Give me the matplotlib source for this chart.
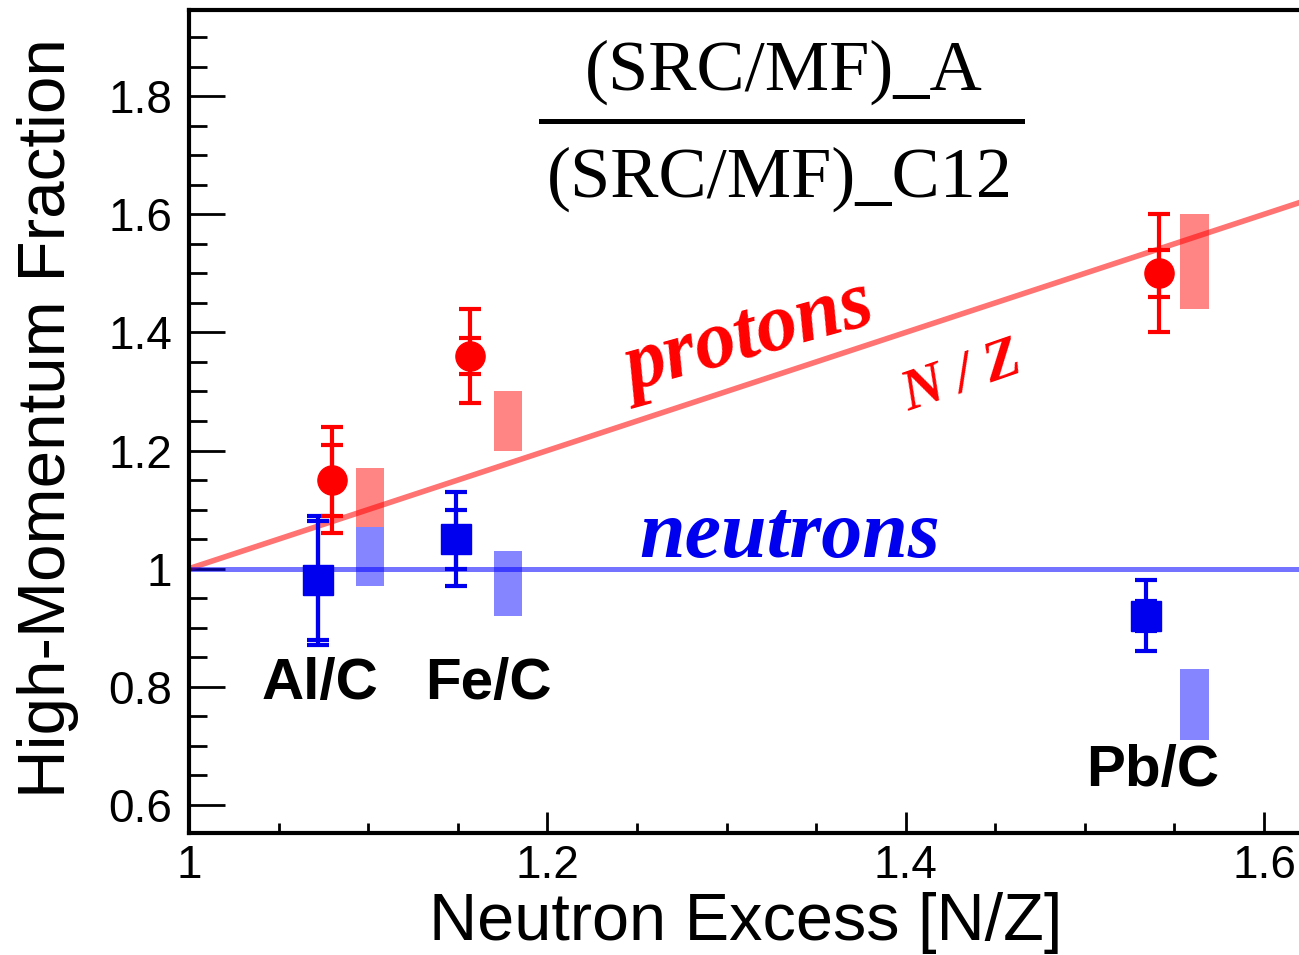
import matplotlib
matplotlib.use('Agg')
import matplotlib.pyplot as plt
from matplotlib.lines import Line2D
from matplotlib.ticker import MultipleLocator, FixedLocator

# ---------------- data ----------------
ratios = ['Al/C', 'Fe/C', 'Pb/C']

proton_x = [1.080, 1.157, 1.5415]
proton_y = [1.15, 1.36, 1.50]
proton_stat = [0.06, 0.03, 0.04]
proton_tot = [0.09, 0.08, 0.10]

neutron_x = [1.072, 1.149, 1.534]
neutron_y = [0.98, 1.05, 0.92]
neutron_stat = [0.10, 0.05, 0.025]
neutron_tot = [0.11, 0.08, 0.06]

sys_x = [1.101, 1.178, 1.561]
proton_sys_lo = [1.07, 1.20, 1.44]
proton_sys_hi = [1.17, 1.30, 1.60]
neutron_sys_lo = [0.97, 0.92, 0.71]
neutron_sys_hi = [1.07, 1.03, 0.83]

nz_line_x = [1.0, 1.65]
nz_line_y = [1.0, 1.65]
neutron_line_y = [1.0, 1.0]

x_ticks = [1.0, 1.2, 1.4, 1.6]
x_ticklabels = ['1', '1.2', '1.4', '1.6']
y_ticks = [0.6, 0.8, 1.0, 1.2, 1.4, 1.6, 1.8]
y_ticklabels = ['0.6', '0.8', '1', '1.2', '1.4', '1.6', '1.8']

label_x = [1.073, 1.167, 1.538]
label_y = [0.78, 0.78, 0.632]

# ---------------- figure ----------------
plt.rcParams['font.family'] = ['Liberation Sans', 'DejaVu Sans']
W, H = 1299, 955
fig = plt.figure(figsize=(W / 100, H / 100), dpi=100)
ax_left, ax_bottom, ax_top = 189 / W, (H - 833) / H, (H - 10) / H
ax = fig.add_axes([ax_left, ax_bottom, 1.0 - ax_left, ax_top - ax_bottom])
ax.set_xlim(1.0, 1.6195)
ax.set_ylim(0.5525, 1.9458)

RED = '#ff0000'
BLUE = '#0000ee'

# reference lines
ax.plot(nz_line_x, nz_line_y, color=RED, alpha=0.55, lw=4.0, zorder=2, solid_capstyle='butt')
ax.plot(nz_line_x, neutron_line_y, color='#0000ff', alpha=0.55, lw=3.6, zorder=2, solid_capstyle='butt')

# systematic boxes
ax.bar(sys_x, [h - l for h, l in zip(proton_sys_hi, proton_sys_lo)], bottom=proton_sys_lo,
       width=0.016, color=RED, alpha=0.48, linewidth=0, zorder=3)
ax.bar(sys_x, [h - l for h, l in zip(neutron_sys_hi, neutron_sys_lo)], bottom=neutron_sys_lo,
       width=0.016, color='#0000ff', alpha=0.48, linewidth=0, zorder=3)

# error bars (total with caps, stat with caps)
EW = 3.0
ax.errorbar(proton_x, proton_y, yerr=proton_tot, fmt='none', ecolor=RED, elinewidth=EW,
            capsize=8.2, capthick=EW, zorder=4)
ax.errorbar(proton_x, proton_y, yerr=proton_stat, fmt='o', color=RED, ms=21, mec=RED,
            ecolor=RED, elinewidth=EW, capsize=8.2, capthick=EW, zorder=5)
ax.errorbar(neutron_x, neutron_y, yerr=neutron_tot, fmt='none', ecolor=BLUE, elinewidth=EW,
            capsize=8.2, capthick=EW, zorder=4)
ax.errorbar(neutron_x, neutron_y, yerr=neutron_stat, fmt='s', color=BLUE, ms=21.5, mec=BLUE,
            ecolor=BLUE, elinewidth=EW, capsize=8.2, capthick=EW, zorder=5)

# nucleus labels
for name, lx, ly in zip(ratios, label_x, label_y):
    ax.text(lx, ly, name, ha='center', va='baseline', fontsize=42, fontweight='bold',
            color='black', zorder=6)

# curve labels
serif = ['Liberation Serif', 'DejaVu Serif']
ax.text(1.3157, 1.3576, 'protons', family=serif, style='italic', fontweight='bold',
        fontsize=59, color=RED, rotation=15.5, rotation_mode='anchor',
        ha='center', va='baseline', zorder=6)
ax.text(1.434, 1.301, 'N / Z', family=serif, style='italic', fontweight='bold',
        fontsize=42, color=RED, rotation=19, rotation_mode='anchor',
        ha='center', va='baseline', zorder=6)
ax.text(1.335, 1.019, 'neutrons', family=serif, style='italic', fontweight='bold',
        fontsize=59, color=BLUE, ha='center', va='baseline', zorder=6)

# axes styling
for s in ['left', 'bottom', 'top']:
    ax.spines[s].set_linewidth(3.0)
ax.spines['right'].set_visible(False)

ax.xaxis.set_major_locator(FixedLocator(x_ticks))
ax.set_xticklabels(x_ticklabels)
ax.xaxis.set_minor_locator(MultipleLocator(0.05))
ax.yaxis.set_major_locator(FixedLocator(y_ticks))
ax.set_yticklabels(y_ticklabels)
ax.yaxis.set_minor_locator(MultipleLocator(0.05))

ax.tick_params(axis='both', which='both', direction='in', width=2.0, colors='black')
ax.tick_params(axis='y', which='major', length=26, labelsize=33, pad=12)
ax.tick_params(axis='y', which='minor', length=13)
ax.tick_params(axis='x', which='major', length=15, labelsize=33, pad=8)
ax.tick_params(axis='x', which='minor', length=7)
ax.tick_params(top=False, right=False, which='both')

fig.text(48 / W, 1 - 418 / H, 'High-Momentum Fraction', rotation=90, fontsize=48.5,
         ha='center', va='center')
fig.text(746 / W, 1 - 940 / H, 'Neutron Excess [N/Z]', fontsize=48,
         ha='center', va='baseline')

# fraction title
fig.text(784 / W, 1 - 90 / H, '(SRC/MF)_A', family=serif, fontsize=52,
         ha='center', va='baseline')
fig.text(780 / W, 1 - 197 / H, '(SRC/MF)_C12', family=serif, fontsize=52,
         ha='center', va='baseline')
fig.add_artist(Line2D([541 / W, 1022 / W], [1 - 121 / H, 1 - 121 / H],
                      transform=fig.transFigure, color='black', lw=3.6))

fig.savefig('out.png', dpi=100)
